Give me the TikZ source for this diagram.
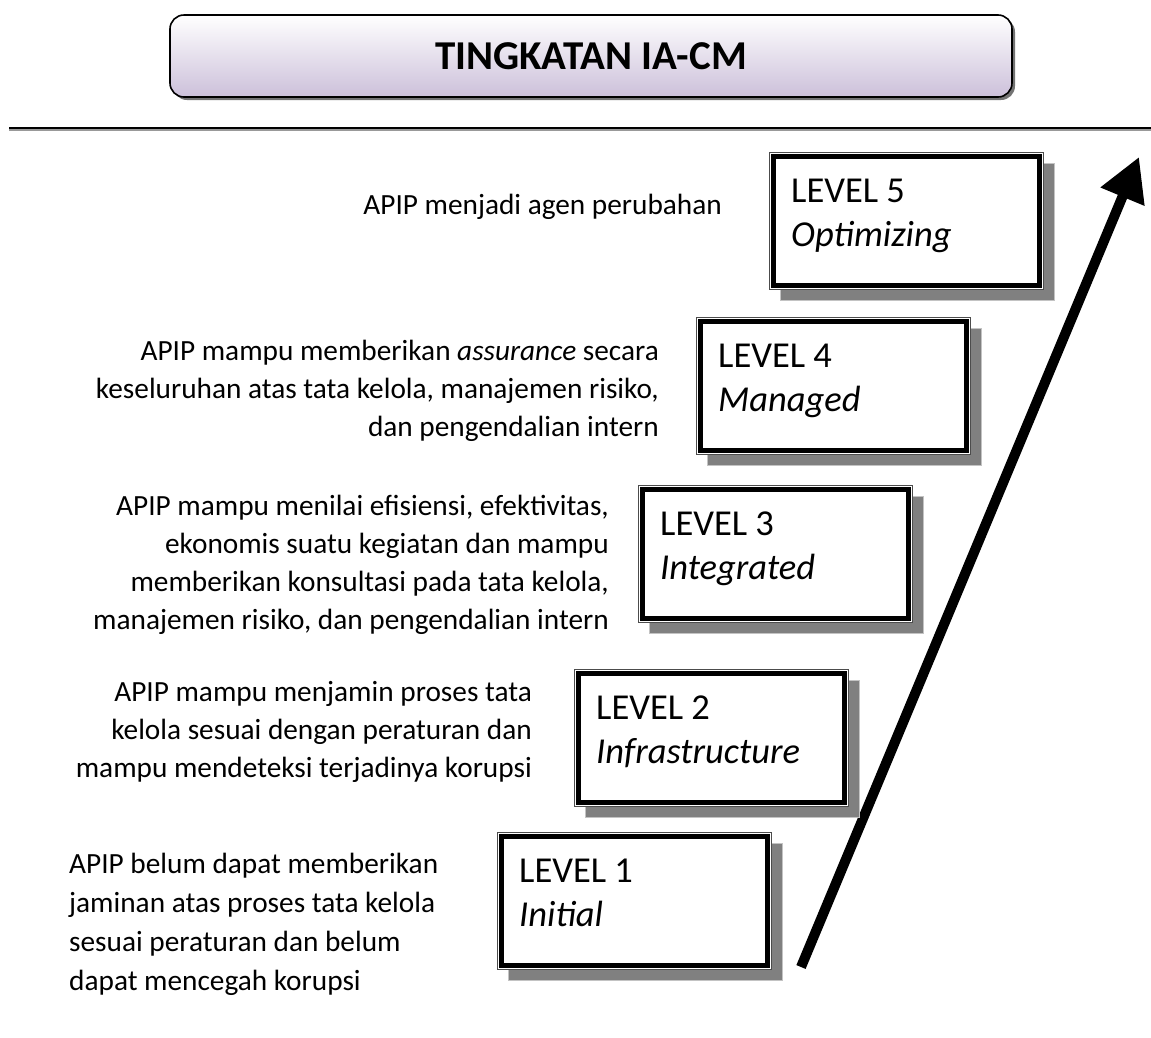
\documentclass[tikz,border=0pt]{standalone}
\usepackage{fontspec}
\setmainfont{Carlito}
\usetikzlibrary{arrows.meta,shadows}
\definecolor{lav}{RGB}{204,192,218}
\definecolor{shgray}{RGB}{128,128,128}
\definecolor{shedge}{RGB}{195,195,195}
\begin{document}
\begin{tikzpicture}[x=1pt,y=-1pt,
  desc/.style={inner sep=0pt, font=\fontsize{29.3}{38}\selectfont},
  desc1/.style={inner sep=0pt, font=\fontsize{29.3}{39}\selectfont},
  lvltext/.style={inner sep=0pt, anchor=north west, align=left, font=\fontsize{36.5}{44}\selectfont},
  lvlbox/.style={draw=black!70, line width=1pt, fill=white, minimum width=274pt, minimum height=137pt,
    anchor=north west, inner sep=0pt,
    drop shadow={shadow xshift=11pt, shadow yshift=-11pt, fill=shgray, draw=shedge, line width=1.2pt, opacity=1}},
  inner/.style={line width=4.5pt, draw=black},
  titlebox/.style={draw=black, line width=1.6pt, rounded corners=14pt, minimum width=842pt, minimum height=82pt,
    top color=white, bottom color=lav, font=\fontsize{41}{48}\selectfont\bfseries,
    drop shadow={shadow xshift=3pt, shadow yshift=-3pt, fill=black!55, opacity=1}},
]
\useasboundingbox (0,0) rectangle (1151,1037);

% title
\node[titlebox] (title) at (591,56) {TINGKATAN IA-CM};

% horizontal rule
\coordinate (hl1) at (9,128);
\coordinate (hl2) at (1151,128);
\coordinate (hs1) at (9,130);
\coordinate (hs2) at (1151,130);
\draw[line width=1.2pt, black!40] (hs1) -- (hs2);
\draw[line width=1.8pt] (hl1) -- (hl2);

% arrow
\coordinate (at) at (801,967);
\coordinate (ah) at (1139,157);
\draw[line width=10pt, -{Triangle[length=43pt,width=45pt]}] (at) -- (ah);

% level boxes
\foreach \n/\x/\y in {5/769/152, 4/696/317, 3/638/485, 2/574/669, 1/497/832}{
  \node[lvlbox] (l\n) at (\x,\y) {};
  \draw[inner] ([shift={(4.3pt,-4.3pt)}]l\n.north west) rectangle ([shift={(-4.3pt,4.3pt)}]l\n.south east);
}

\node[lvltext] (t5) at ([shift={(22pt,-19pt)}]l5.north west) {\strut LEVEL 5\\\textit{Optimizing}};
\node[lvltext] (t4) at ([shift={(22pt,-19pt)}]l4.north west) {\strut LEVEL 4\\\textit{Managed}};
\node[lvltext] (t3) at ([shift={(22pt,-19pt)}]l3.north west) {\strut LEVEL 3\\\textit{Integrated}};
\node[lvltext] (t2) at ([shift={(22pt,-19pt)}]l2.north west) {\strut LEVEL 2\\\textit{Infrastructure}};
\node[lvltext] (t1) at ([shift={(22pt,-19pt)}]l1.north west) {\strut LEVEL 1\\\textit{Initial}};

% descriptions
\node[desc, anchor=north east, align=right] (d5) at (722,187.5) {\strut APIP menjadi agen perubahan};
\node[desc, anchor=north east, align=right] (d4) at (659,334)
  {\strut APIP mampu memberikan \textit{assurance} secara\\keseluruhan atas tata kelola, manajemen risiko,\\dan pengendalian intern};
\node[desc, anchor=north east, align=right] (d3) at (609,489)
  {\strut APIP mampu menilai efisiensi, efektivitas,\\ekonomis suatu kegiatan dan mampu\\memberikan konsultasi pada tata kelola,\\manajemen risiko, dan pengendalian intern};
\node[desc, anchor=north east, align=right] (d2) at (532,675)
  {\strut APIP mampu menjamin proses tata\\kelola sesuai dengan peraturan dan\\mampu mendeteksi terjadinya korupsi};
\node[desc1, anchor=north west, align=left] (d1) at (69,846)
  {\strut APIP belum dapat memberikan\\jaminan atas proses tata kelola\\sesuai peraturan dan belum\\dapat mencegah korupsi};
\end{tikzpicture}
\end{document}
